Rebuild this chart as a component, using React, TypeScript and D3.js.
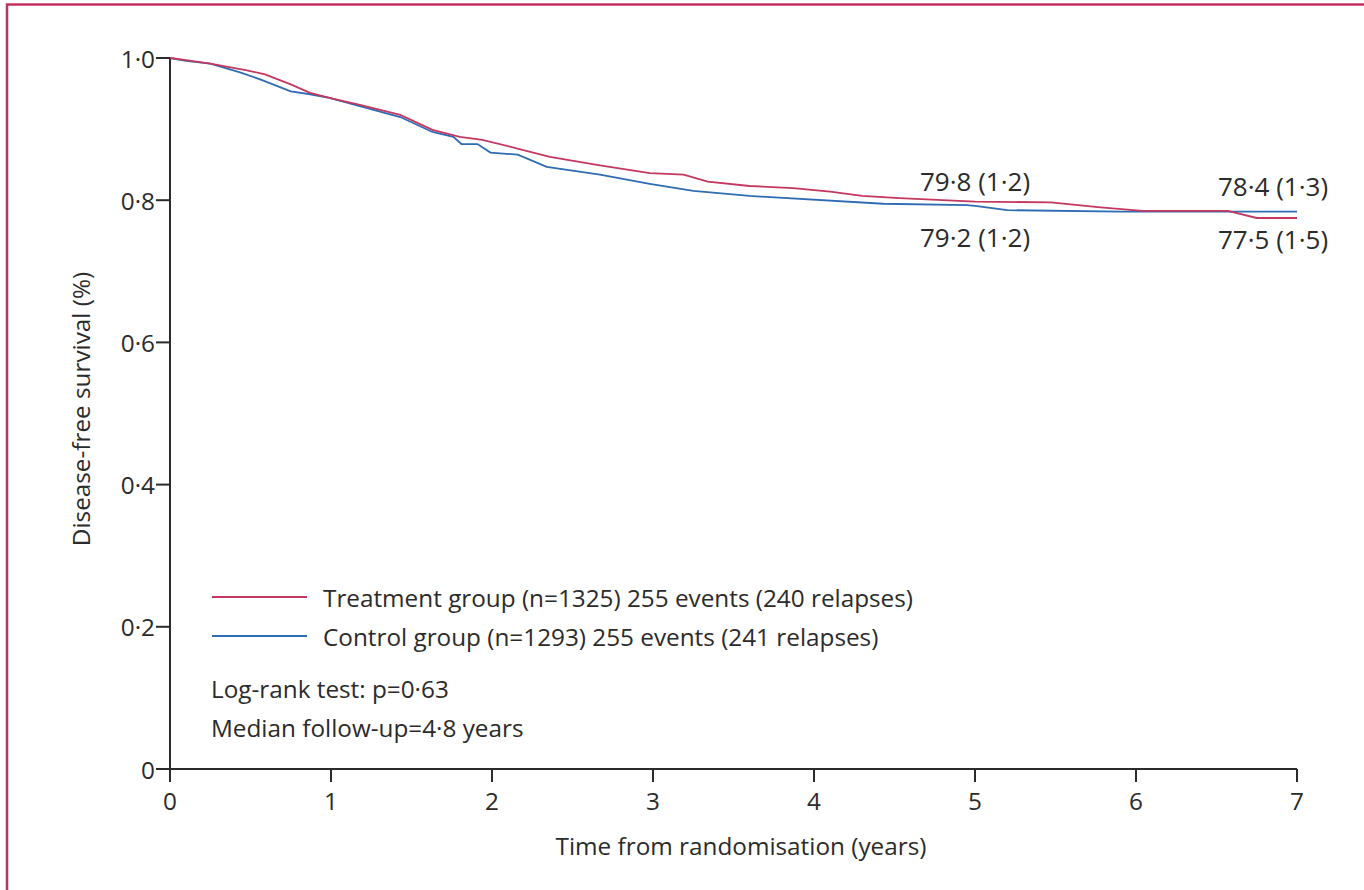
import React from "react";
import * as d3 from "d3";

// Kaplan–Meier disease-free survival, years from randomisation
const treatmentTimes = [0, 0.1, 0.25, 0.47, 0.59, 0.75, 0.87, 0.99, 1.18, 1.43, 1.63, 1.8, 1.94, 2.17, 2.36, 2.67, 2.98, 3.19, 3.34, 3.6, 3.87, 4.1, 4.3, 4.53, 4.9, 5.0, 5.47, 5.78, 6.04, 6.57, 6.75, 7.0];
const treatmentSurv = [1.0, 0.997, 0.992, 0.983, 0.977, 0.963, 0.951, 0.944, 0.934, 0.92, 0.899, 0.889, 0.885, 0.872, 0.861, 0.849, 0.838, 0.836, 0.826, 0.82, 0.817, 0.812, 0.806, 0.803, 0.799, 0.798, 0.797, 0.79, 0.785, 0.785, 0.775, 0.775];

const controlTimes = [0, 0.1, 0.25, 0.43, 0.56, 0.75, 0.87, 0.99, 1.43, 1.63, 1.76, 1.81, 1.91, 1.99, 2.16, 2.34, 2.67, 2.98, 3.25, 3.6, 4.43, 4.95, 5.0, 5.2, 5.9, 7.0];
const controlSurv = [1.0, 0.996, 0.992, 0.98, 0.97, 0.953, 0.949, 0.944, 0.917, 0.896, 0.889, 0.879, 0.879, 0.867, 0.864, 0.847, 0.836, 0.823, 0.813, 0.806, 0.795, 0.793, 0.792, 0.786, 0.784, 0.784];

const xTicks = [0, 1, 2, 3, 4, 5, 6, 7];
const yTicks = [0, 0.2, 0.4, 0.6, 0.8, 1.0];

const legendLabels = [
  "Treatment group (n=1325) 255 events (240 relapses)",
  "Control group (n=1293) 255 events (241 relapses)",
];
const notes = ["Log-rank test: p=0·63", "Median follow-up=4·8 years"];

// Survival % (SE) at 5 and 7 years
const annotTimes = [5, 5, 7, 7];
const annotTexts = ["79·8 (1·2)", "79·2 (1·2)", "78·4 (1·3)", "77·5 (1·5)"];

const RED = "#c4385f";
const BLUE = "#2e6cb3";
const INK = "#2b2b2b";
const FONT = "'Open Sans', 'Noto Sans', sans-serif";

const fmt = (v: number) => (v === 0 ? "0" : v.toFixed(1).replace(".", "·"));

export default function App() {
  const W = 1364;
  const H = 890;
  const x = d3.scaleLinear().domain([0, 7]).range([170, 1297]);
  const y = d3.scaleLinear().domain([0, 1]).range([769, 58]);

  const line = d3
    .line<[number, number]>()
    .x((d) => x(d[0]))
    .y((d) => y(d[1]))
    .curve(d3.curveLinear);

  const tPts = treatmentTimes.map((t, i) => [t, treatmentSurv[i]] as [number, number]);
  const cPts = controlTimes.map((t, i) => [t, controlSurv[i]] as [number, number]);

  const fs = 24.3;

  return (
    <svg
      width={W}
      height={H}
      style={{ position: "absolute", left: 0, top: 0, background: "#fff" }}
      fontFamily={FONT}
    >
      <rect x={7} y={4.5} width={W + 20} height={H + 20} fill="#fff" stroke="#c23060" strokeWidth={2.5} />

      {/* axes */}
      <g stroke={INK} strokeWidth={2} fill="none">
        <line x1={x(0)} x2={x(0)} y1={y(1)} y2={y(0) + 13} />
        <line x1={x(0)} x2={x(7)} y1={y(0)} y2={y(0)} />
        {yTicks.map((v) => (
          <line key={"yt" + v} x1={x(0) - 14} x2={x(0)} y1={y(v)} y2={y(v)} />
        ))}
        {xTicks.map((v) => (
          <line key={"xt" + v} x1={x(v)} x2={x(v)} y1={y(0)} y2={y(0) + 13} />
        ))}
      </g>
      <g fill={INK} fontSize={fs}>
        {yTicks.map((v) => (
          <text key={"yl" + v} x={x(0) - 15} y={y(v)} textAnchor="end" dominantBaseline="central">
            {fmt(v)}
          </text>
        ))}
        {xTicks.map((v) => (
          <text key={"xl" + v} x={x(v)} y={y(0) + 31} textAnchor="middle" dominantBaseline="central">
            {v}
          </text>
        ))}
        <text x={741} y={845} textAnchor="middle" dominantBaseline="central">
          Time from randomisation (years)
        </text>
        <text
          transform={`translate(80, 409) rotate(-90)`}
          textAnchor="middle"
          dominantBaseline="central"
        >
          Disease-free survival (%)
        </text>
      </g>

      {/* survival curves */}
      <path d={line(cPts) || ""} fill="none" stroke={BLUE} strokeWidth={1.8} />
      <path d={line(tPts) || ""} fill="none" stroke={RED} strokeWidth={1.8} />

      {/* annotations */}
      <g fill={INK} fontSize={26}>
        <text x={x(annotTimes[0]) - 55} y={y(0.8) - 19} dominantBaseline="central">{annotTexts[0]}</text>
        <text x={x(annotTimes[1]) - 55} y={y(0.8) + 37} dominantBaseline="central">{annotTexts[1]}</text>
        <text x={x(annotTimes[2]) - 79} y={y(0.8) - 14} dominantBaseline="central">{annotTexts[2]}</text>
        <text x={x(annotTimes[3]) - 79} y={y(0.8) + 39} dominantBaseline="central">{annotTexts[3]}</text>
      </g>

      {/* legend */}
      <g fontSize={fs} fill={INK}>
        {legendLabels.map((lab, i) => (
          <g key={lab}>
            <line x1={212} x2={307} y1={597 + i * 39} y2={597 + i * 39} stroke={i === 0 ? RED : BLUE} strokeWidth={1.8} />
            <text x={323} y={597 + i * 39} dominantBaseline="central">{lab}</text>
          </g>
        ))}
        {notes.map((n, i) => (
          <text key={n} x={211} y={688 + i * 39} dominantBaseline="central">{n}</text>
        ))}
      </g>
    </svg>
  );
}
